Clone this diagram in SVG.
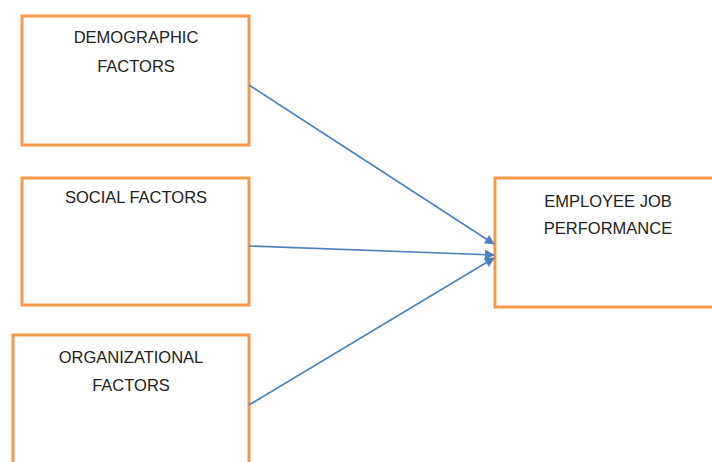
<svg xmlns="http://www.w3.org/2000/svg" width="712" height="462" viewBox="0 0 712 462">
  <style>
    .box { fill: #ffffff; stroke: #F5984A; stroke-width: 3; }
    .lbl { font-family: "Liberation Sans", Arial, sans-serif; font-size: 16.5px; fill: #222222; text-anchor: middle; }
    .edge { stroke: #4F81BD; stroke-width: 1.7; fill: none; marker-end: url(#arrow); }
  </style>
  <defs>
    <marker id="arrow" viewBox="0 0 10 10" refX="9" refY="5" markerWidth="11" markerHeight="10" markerUnits="userSpaceOnUse" orient="auto">
      <path d="M0,0 L10,5 L0,10 z" fill="#4F81BD"/>
    </marker>
  </defs>
  <rect width="712" height="462" fill="#ffffff"/>

  <g id="demographic">
    <rect class="box" x="22" y="16" width="227" height="129"/>
    <text class="lbl" x="136" y="43">DEMOGRAPHIC</text>
    <text class="lbl" x="136" y="72">FACTORS</text>
  </g>

  <g id="social">
    <rect class="box" x="22" y="178" width="227" height="127"/>
    <text class="lbl" x="136" y="203">SOCIAL FACTORS</text>
  </g>

  <g id="organizational">
    <rect class="box" x="13" y="335" width="236" height="140"/>
    <text class="lbl" x="131" y="363">ORGANIZATIONAL</text>
    <text class="lbl" x="131" y="391">FACTORS</text>
  </g>

  <g id="performance">
    <rect class="box" x="495" y="178" width="230" height="129"/>
    <text class="lbl" x="608" y="207">EMPLOYEE JOB</text>
    <text class="lbl" x="608" y="234">PERFORMANCE</text>
  </g>

  <g id="connectors">
    <line class="edge" x1="249" y1="85" x2="494" y2="244"/>
    <line class="edge" x1="249" y1="246" x2="494" y2="255"/>
    <line class="edge" x1="249" y1="405" x2="494" y2="258"/>
  </g>
</svg>
